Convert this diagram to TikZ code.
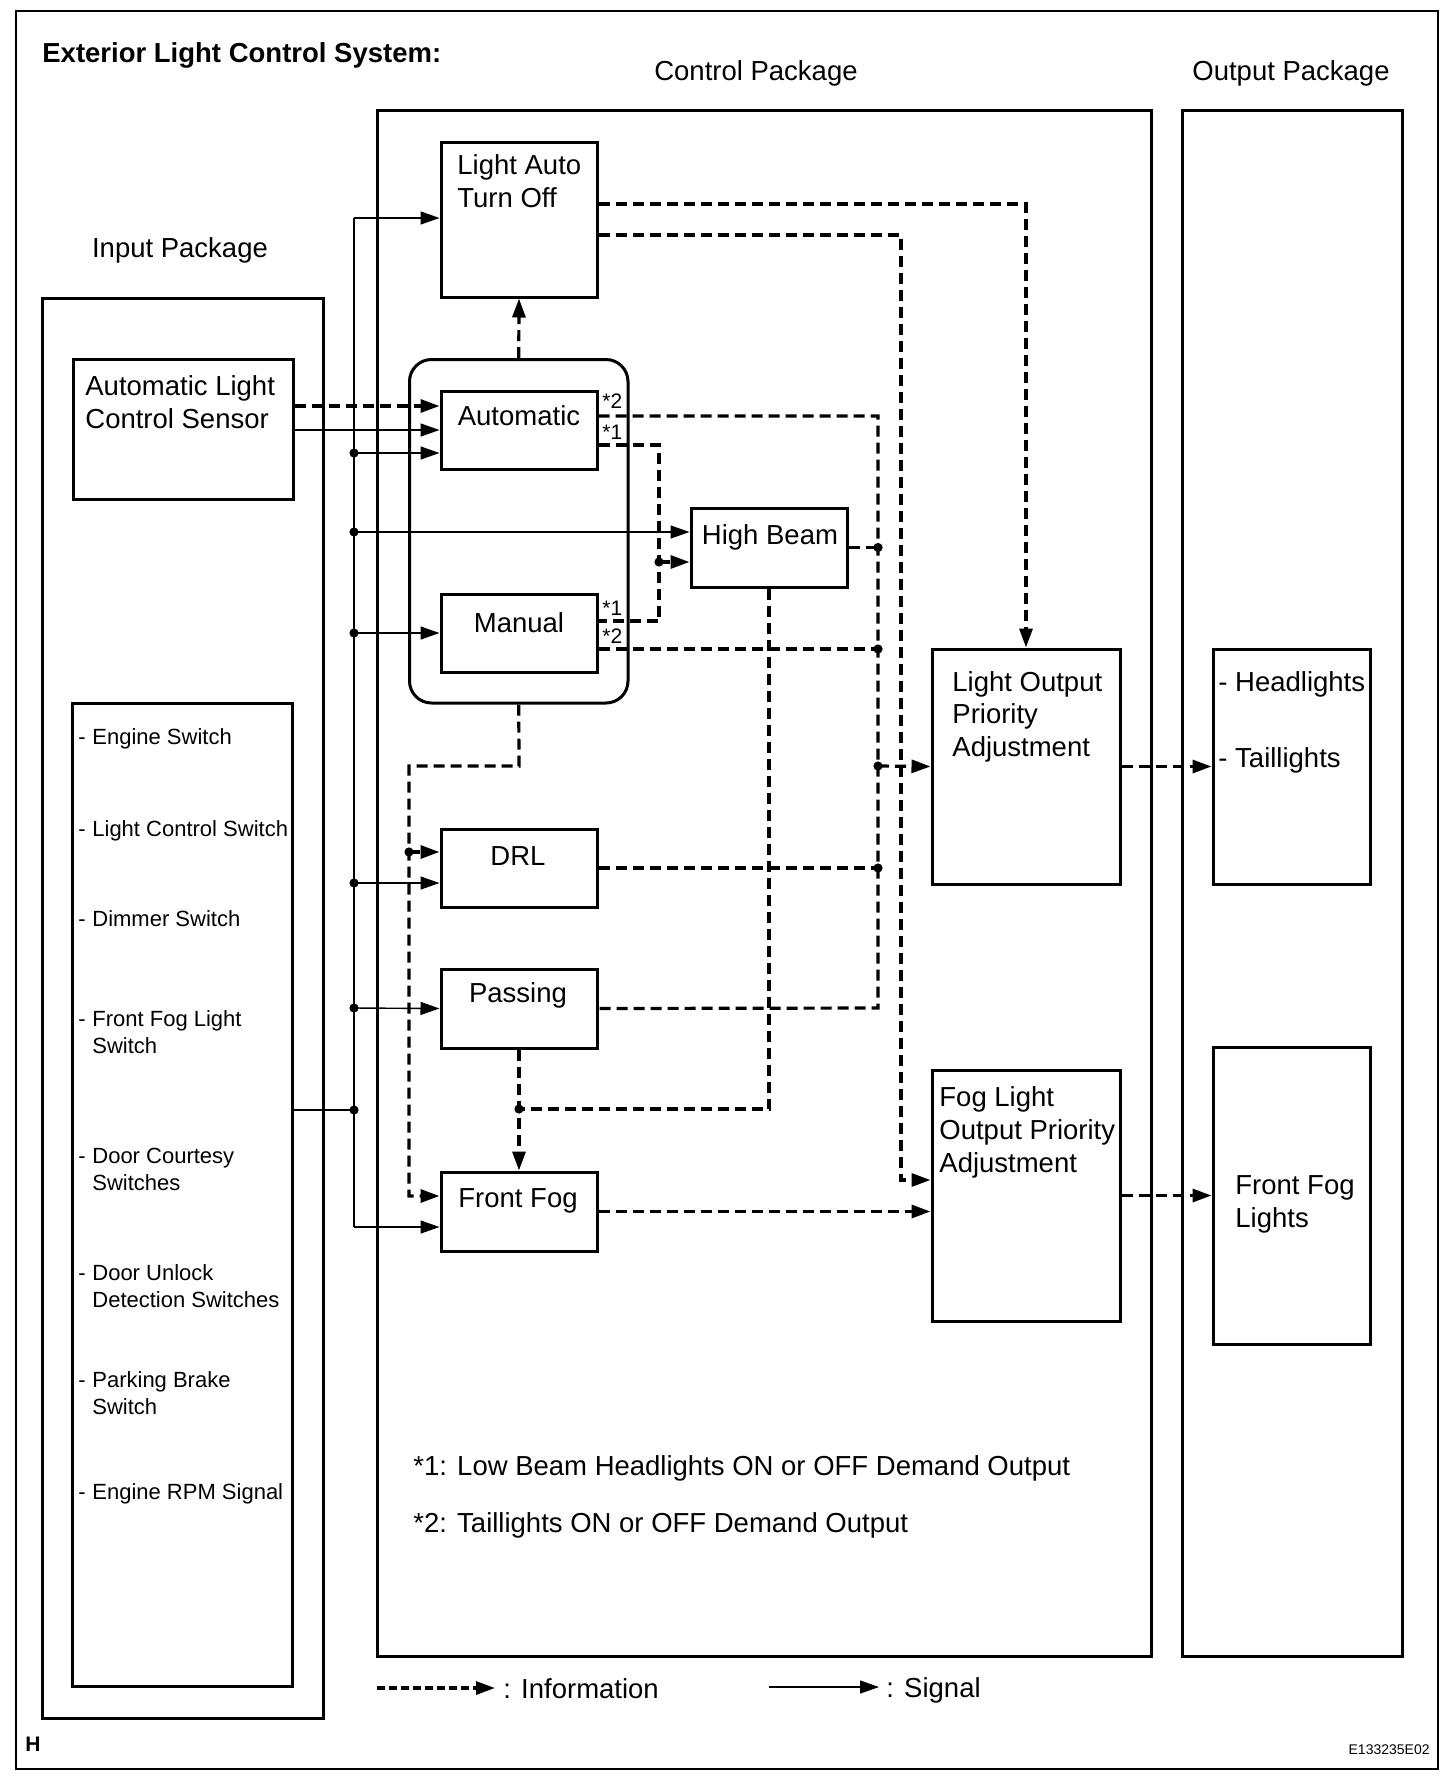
\documentclass[tikz,border=0pt]{standalone}
\usepackage{fontspec}
\setmainfont{Liberation Sans}
\usetikzlibrary{arrows.meta,positioning,shapes}

\begin{document}
\begin{tikzpicture}[x=0.5pt,y=-0.5pt]

    \tikzstyle{blk} = [draw, rectangle, line width=1.5pt, inner sep=0pt]

    \tikzstyle{lbl} = [inner sep=0pt, font=\fontsize{13.75}{16}\selectfont]

    \tikzstyle{ttl} = [inner sep=0pt, anchor=base west, font=\bfseries\fontsize{13.75}{16}\selectfont]

    \tikzstyle{sml} = [inner sep=0pt, anchor=base west, font=\fontsize{11}{13}\selectfont]

    \tikzstyle{star} = [inner sep=0pt, anchor=base west, font=\fontsize{10.5}{12}\selectfont]

    \tikzstyle{info} = [line width=1.6pt, dash pattern=on 5.5pt off 3pt]

    \tikzstyle{sig} = [line width=0.7pt]

    \tikzstyle{tip} = [-{Triangle[length=9.5pt,width=6.5pt]}]

    \useasboundingbox (0,0) rectangle (1456,1784);
    \draw[line width=1pt] (15.5,11) rectangle (1437.5,1769);

    % packages
    \draw
    (182.5,1008) node [blk, minimum width=140.5pt, minimum height=710pt] (inp) {}
    (764.25,883) node [blk, minimum width=386.75pt, minimum height=773pt] (ctl) {}
    (1292,883) node [blk, minimum width=110pt, minimum height=773pt] (outp) {}
    ;

    % blocks
    \draw
    (183,429) node [blk, minimum width=110pt, minimum height=70pt] (sens) {}
    (182,1194.5) node [blk, minimum width=110pt, minimum height=491.5pt] (sw) {}
    (518.75,531.25) node [blk, rounded corners=11pt, minimum width=109.25pt, minimum height=171.75pt] (grp) {}
    (519,219.5) node [blk, minimum width=78pt, minimum height=77.5pt] (lato) {}
    (519,430) node [blk, minimum width=78pt, minimum height=39pt] (auto) {}
    (519,633) node [blk, minimum width=78pt, minimum height=39pt] (man) {}
    (769,547.5) node [blk, minimum width=78pt, minimum height=39.5pt] (hb) {}
    (519,868) node [blk, minimum width=78pt, minimum height=39pt] (drl) {}
    (519,1008.5) node [blk, minimum width=78pt, minimum height=39.5pt] (pass) {}
    (519,1211.5) node [blk, minimum width=78pt, minimum height=39.5pt] (ff) {}
    (1026,766.5) node [blk, minimum width=94pt, minimum height=117.5pt] (lop) {}
    (1026,1195.5) node [blk, minimum width=94pt, minimum height=125.5pt] (flo) {}
    (1291.5,766.5) node [blk, minimum width=78.5pt, minimum height=117.5pt] (hl) {}
    (1291.5,1195.5) node [blk, minimum width=78.5pt, minimum height=148.5pt] (ffl) {}
    ;

    % headings
    \node[ttl] (title) at (42,62) {Exterior Light Control System:};
    \node[lbl, anchor=base] (ctlT) at (756,80) {Control Package};
    \node[lbl, anchor=base] (outT) at (1291,80) {Output Package};
    \node[lbl, anchor=base] (inpT) at (180,257) {Input Package};

    % block texts
    \node[lbl, anchor=base west] (sensA) at (85,395) {Automatic Light};
    \node[lbl, anchor=base west] (sensB) at (85,428) {Control Sensor};
    \node[lbl, anchor=base west] (latoA) at (457,174) {Light Auto};
    \node[lbl, anchor=base west] (latoB) at (457,207) {Turn Off};
    \node[lbl, anchor=base] (autoT) at (519,425) {Automatic};
    \node[lbl, anchor=base] (manT) at (519,632) {Manual};
    \node[lbl, anchor=base] (hbT) at (770,544) {High Beam};
    \node[lbl, anchor=base] (drlT) at (518,865) {DRL};
    \node[lbl, anchor=base] (passT) at (518,1002) {Passing};
    \node[lbl, anchor=base] (ffT) at (518,1207) {Front Fog};
    \node[lbl, anchor=base west] (lopA) at (952,691) {Light Output};
    \node[lbl, anchor=base west] (lopB) at (952,723.5) {Priority};
    \node[lbl, anchor=base west] (lopC) at (952,756) {Adjustment};
    \node[lbl, anchor=base west] (floA) at (939,1106) {Fog Light};
    \node[lbl, anchor=base west] (floB) at (939,1139) {Output Priority};
    \node[lbl, anchor=base west] (floC) at (939,1172) {Adjustment};
    \node[lbl, anchor=base west] (hlA) at (1218,691) {- Headlights};
    \node[lbl, anchor=base west] (hlB) at (1218,767) {- Taillights};
    \node[lbl, anchor=base west] (fflA) at (1235,1194) {Front Fog};
    \node[lbl, anchor=base west] (fflB) at (1235,1227) {Lights};

    % switch list
    \foreach \yy/\txt in {744/Engine Switch, 836/Light Control Switch, 926/Dimmer Switch,
      1026/Front Fog Light, 1163/Door Courtesy, 1280/Door Unlock, 1387/Parking Brake,
      1499/Engine RPM Signal}{
      \node[sml] (swd\yy) at (78,\yy) {-};
      \node[sml] (swt\yy) at (92,\yy) {\txt};
    }
    \foreach \yy/\txt in {1053/Switch, 1190/Switches, 1307/Detection Switches, 1414/Switch}
      \node[sml] (swt\yy) at (92,\yy) {\txt};

    % output marks
    \node[star] (s2a) at (602,408) {*2};
    \node[star] (s1a) at (602,439) {*1};
    \node[star] (s1m) at (602,615) {*1};
    \node[star] (s2m) at (602,643) {*2};

    % junctions
    \coordinate (sb0) at (354,218);
    \coordinate (sb1) at (354,453);
    \coordinate (sb2) at (354,532);
    \coordinate (sb3) at (354,633);
    \coordinate (sb4) at (354,883);
    \coordinate (sb5) at (354,1008);
    \coordinate (sb6) at (354,1110);
    \coordinate (sb7) at (354,1227);
    \coordinate (ys) at (0,406);
    \coordinate (t1) at (878,416);
    \coordinate (t3) at (878,649);
    \coordinate (t4) at (878,766);
    \coordinate (t5) at (878,1008);
    \coordinate (u1) at (659,445);
    \coordinate (u2) at (659,621);
    \coordinate (u3) at (659,562);
    \coordinate (v1) at (1026,204);
    \coordinate (w1) at (901,235);
    \coordinate (w2) at (901,1180);
    \coordinate (g1) at (519,766);
    \coordinate (g2) at (409,766);
    \coordinate (g3) at (409,1196);
    \coordinate (g4) at (409,852);
    \coordinate (h1) at (519,1109);
    \coordinate (h2) at (769,1109);

    % signal
    \draw[sig] (sb0) -- (sb7);
    \draw[sig,tip] (sb0) -- (lato.west |- sb0);
    \draw[sig,tip] (sb1) -- (auto.west |- sb1);
    \draw[sig,tip] (sb2) -- (hb.west |- sb2);
    \draw[sig,tip] (sb3) -- (man.west);
    \draw[sig,tip] (sb4) -- (drl.west |- sb4);
    \draw[sig,tip] (sb5) -- (pass.west);
    \draw[sig,tip] (sb7) -- (ff.west |- sb7);
    \draw[sig] (sw.east |- sb6) -- (sb6);
    \draw[sig,tip] (sens.east |- auto.west) -- (auto.west);
    \foreach \c in {sb1,sb2,sb3,sb4,sb5,sb6} \fill (\c) circle (2.3pt);

    % information
    \draw[info,tip] (sens.east |- ys) -- (auto.west |- ys);
    \draw[info,tip] (grp.north) -- (lato.south);
    \draw[info] (auto.east |- t1) -- (t1) -- (t5) -- (pass.east);
    \draw[info] (hb.east) -- (hb.east -| t1);
    \draw[info] (man.east |- t3) -- (t3);
    \draw[info] (drl.east) -- (drl.east -| t1);
    \draw[info,tip] (t4) -- (lop.west);
    \foreach \c in {hb.east -| t1, t3, t4, drl.east -| t1} \fill (\c) circle (2.3pt);
    \draw[info] (auto.east |- u1) -- (u1) -- (u2) -- (man.east |- u2);
    \draw[info,tip] (u3) -- (hb.west |- u3);
    \fill (u3) circle (2.3pt);
    \draw[info,tip] (lato.east |- v1) -- (v1) -- (lop.north);
    \draw[info,tip] (lato.east |- w1) -- (w1) -- (w2) -- (flo.west |- w2);
    \draw[info,tip] (grp.south) -- (g1) -- (g2) -- (g3) -- (ff.west |- g3);
    \draw[info,tip] (g4) -- (drl.west |- g4);
    \fill (g4) circle (2.3pt);
    \draw[info,tip] (pass.south) -- (ff.north);
    \draw[info] (hb.south) -- (h2) -- (h1);
    \fill (h1) circle (2.3pt);
    \draw[info,tip] (ff.east) -- (flo.west |- ff.east);
    \draw[info,tip] (lop.east) -- (hl.west);
    \draw[info,tip] (flo.east) -- (ffl.west);

    % notes
    \node[lbl, anchor=base west] (note1) at (413,1475) {*1: Low Beam Headlights ON or OFF Demand Output};
    \node[lbl, anchor=base west] (note2) at (413,1532) {*2: Taillights ON or OFF Demand Output};

    % legend
    \coordinate (li0) at (377,1688);
    \coordinate (li1) at (495,1688);
    \coordinate (ls0) at (769,1687);
    \coordinate (ls1) at (879,1687);
    \draw[info,tip,dash pattern=on 4pt off 2pt] (li0) -- (li1);
    \node[lbl, anchor=base west] (infoT) at (503,1698) {: Information};
    \draw[sig,tip] (ls0) -- (ls1);
    \node[lbl, anchor=base west] (sigT) at (886,1697) {: Signal};

    \node[inner sep=0pt, anchor=base west, font=\bfseries\fontsize{10.5}{12}\selectfont] (hT) at (25,1751) {H};
    \node[inner sep=0pt, anchor=base east, font=\fontsize{7}{8}\selectfont] (code) at (1430,1754) {E133235E02};
\end{tikzpicture}
\end{document}
